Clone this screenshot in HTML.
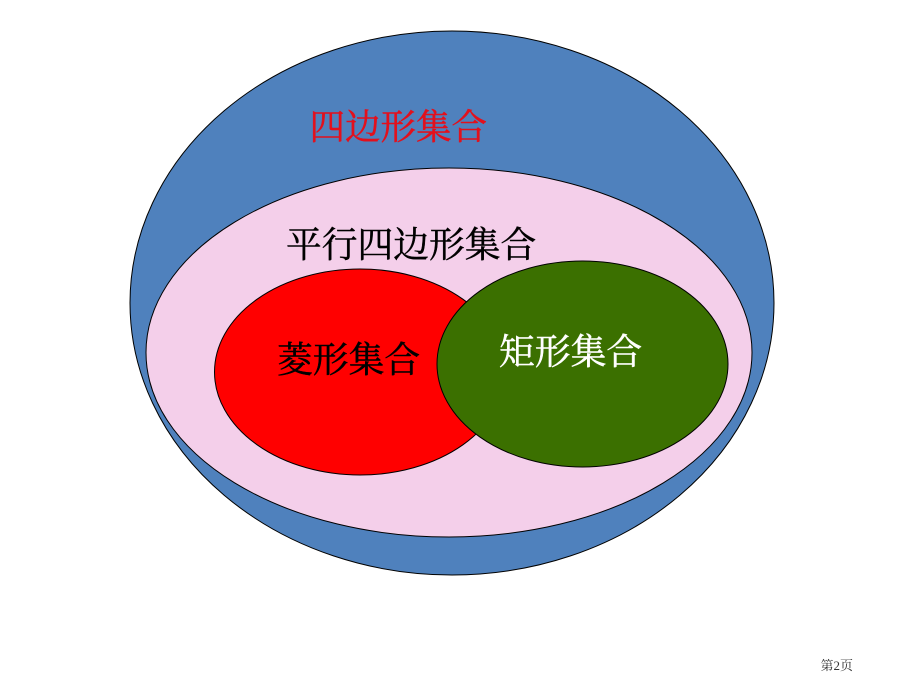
<!DOCTYPE html>
<html><head><meta charset="utf-8"><style>
html,body{margin:0;padding:0;background:#fff}
svg{display:block}
text{font-family:"Liberation Serif","Noto Serif CJK SC",serif}
</style></head><body>
<svg width="920" height="690" viewBox="0 0 920 690" xmlns="http://www.w3.org/2000/svg">
<rect width="920" height="690" fill="#fff"/>
<ellipse cx="452" cy="303" rx="322" ry="272" fill="#4f81bd" stroke="#000" stroke-width="1"/>
<ellipse cx="449" cy="352.5" rx="303" ry="184.5" fill="#f4cfea" stroke="#000" stroke-width="1"/>
<ellipse cx="360" cy="372" rx="145.5" ry="103" fill="#ff0000" stroke="#000" stroke-width="1"/>
<ellipse cx="582.5" cy="364" rx="145.5" ry="103" fill="#3b7000" stroke="#000" stroke-width="1"/>
<text x="309.5" y="139" font-size="35.5" fill="#e3101c" stroke="#e3101c" stroke-width="0.45">四边形集合</text>
<text x="286" y="257" font-size="35.75" fill="#000" stroke="#000" stroke-width="0.45">平行四边形集合</text>
<text x="277" y="372" font-size="35.8" fill="#000" stroke="#000" stroke-width="0.45">菱形集合</text>
<text x="499" y="364" font-size="35.8" fill="#fff" stroke="#fff" stroke-width="0.45">矩形集合</text>
<text x="820.5" y="670" font-size="13" fill="#333">第2页</text>
</svg>
</body></html>
